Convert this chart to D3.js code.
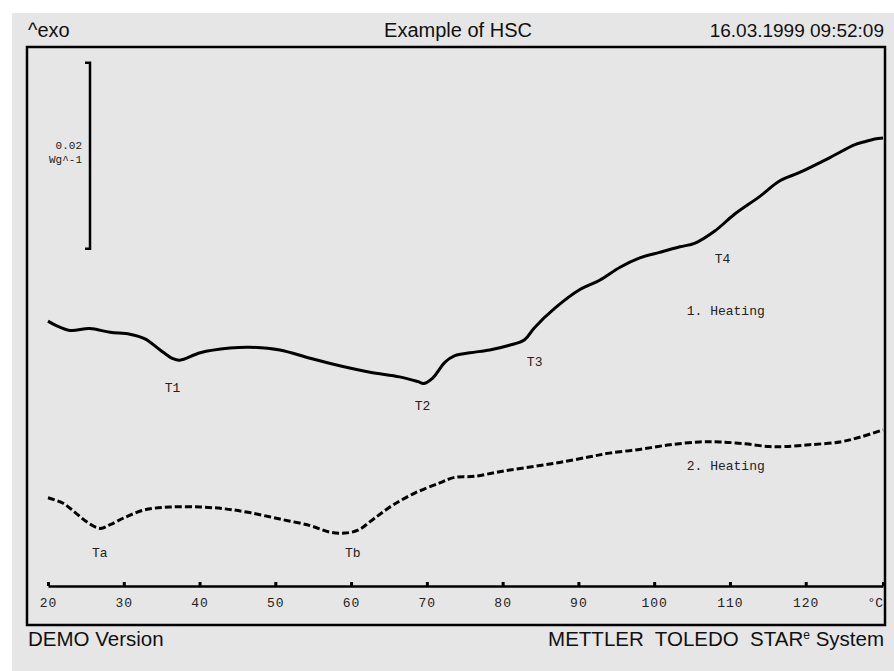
<!DOCTYPE html>
<html>
<head>
<meta charset="utf-8">
<script src="https://cdn.jsdelivr.net/npm/d3@7"></script>
<style>
  html, body { margin: 0; padding: 0; background: #ffffff; }
  svg { display: block; }
</style>
</head>
<body>
<svg id="chart" width="894" height="671"></svg>
<script>
// Temperature (°C) of each sampled point on the two heating runs
const heating1Temp = [20.0, 20.9, 22.9, 25.5, 28.2, 30.8, 32.8, 34.8, 36.4, 37.4, 40.1, 44.0, 46.6, 50.6, 54.6, 58.5, 62.5, 66.4, 68.8, 69.6, 70.8, 72.4, 73.7, 75.7, 78.3, 80.9, 82.9, 84.2, 86.9, 90.2, 92.8, 95.5, 98.1, 100.7, 103.4, 105.4, 108.0, 110.6, 113.9, 116.6, 119.2, 123.2, 126.5, 127.8, 129.1, 130.2];
// Heat flow (W/g, relative) of the first heating run
const heating1Flow = [0.0285, 0.0281, 0.0275, 0.0277, 0.0273, 0.0271, 0.0266, 0.0254, 0.0245, 0.0243, 0.0251, 0.0256, 0.0257, 0.0254, 0.0245, 0.0237, 0.0230, 0.0225, 0.0220, 0.0218, 0.0224, 0.0241, 0.0248, 0.0251, 0.0254, 0.0259, 0.0265, 0.0278, 0.0299, 0.0319, 0.0329, 0.0343, 0.0353, 0.0359, 0.0365, 0.0369, 0.0382, 0.0400, 0.0419, 0.0436, 0.0445, 0.0461, 0.0475, 0.0478, 0.0481, 0.0482];

const heating2Temp = [20.0, 22.0, 23.6, 25.3, 26.9, 28.2, 30.2, 32.8, 36.1, 40.1, 43.4, 46.6, 50.6, 54.6, 57.2, 59.2, 60.9, 63.1, 65.5, 68.4, 71.7, 73.7, 76.3, 79.6, 83.6, 87.5, 91.5, 94.1, 98.1, 102.1, 106.0, 108.7, 112.0, 115.2, 117.2, 120.5, 124.5, 127.1, 130.2];
// Heat flow (W/g, relative) of the second heating run
const heating2Flow = [0.0095, 0.0089, 0.0079, 0.0068, 0.0062, 0.0066, 0.0074, 0.0082, 0.0085, 0.0085, 0.0083, 0.0079, 0.0072, 0.0065, 0.0058, 0.0057, 0.0060, 0.0073, 0.0087, 0.0100, 0.0111, 0.0117, 0.0118, 0.0123, 0.0128, 0.0133, 0.0139, 0.0143, 0.0147, 0.0152, 0.0155, 0.0155, 0.0153, 0.0150, 0.0150, 0.0152, 0.0155, 0.0160, 0.0168];

// Temperature axis ticks
const tempTicks = [20, 30, 40, 50, 60, 70, 80, 90, 100, 110, 120];
const tempUnit = "°C";

// Annotations: text, temperature and heat flow where the text starts
const noteText = ["T1", "T2", "T3", "T4", "1. Heating", "Ta", "Tb", "2. Heating"];
const noteTemp = [35.4, 68.4, 83.2, 108.0, 104.3, 25.8, 59.2, 104.3];
const noteFlow = [0.0209, 0.0189, 0.0237, 0.0348, 0.0292, 0.0031, 0.0031, 0.0125];

// Heat flow scale bar
const scaleBarSize = 0.02;
const scaleBarTop = 0.0563;
const scaleBarLabel = ["0.02", "Wg^-1"];

const headerLeft = "^exo";
const headerTitle = "Example of HSC";
const headerDate = "16.03.1999 09:52:09";
const footerLeft = "DEMO Version";

const svg = d3.select("#chart");
const sans = "'Liberation Sans', Arial, Helvetica, sans-serif";
const mono = "'Liberation Mono', 'Courier New', monospace";

// page panel
svg.append("rect").attr("x", 12).attr("y", 13).attr("width", 882).attr("height", 658).attr("fill", "#e6e6e6");

const frame = { left: 27, right: 885, top: 47, bottom: 625 };

const x = d3.scaleLinear().domain([20, 130.2]).range([48, 883]);
const y = d3.scaleLinear().domain([0, 0.058]).range([586, 47]);

// header
const hdr = svg.append("g").attr("font-family", sans).attr("font-size", 20).attr("fill", "#111");
hdr.append("text").attr("x", 28).attr("y", 37).text(headerLeft);
hdr.append("text").attr("x", 458).attr("y", 37).attr("text-anchor", "middle").text(headerTitle);
hdr.append("text").attr("x", 884).attr("y", 37).attr("text-anchor", "end").attr("font-size", 19).text(headerDate);

// frame
svg.append("rect")
  .attr("x", frame.left).attr("y", frame.top)
  .attr("width", frame.right - frame.left).attr("height", frame.bottom - frame.top)
  .attr("fill", "none").attr("stroke", "#000").attr("stroke-width", 2.5);

// temperature axis
const axis = d3.axisBottom(x)
  .tickValues(tempTicks.concat([130.2]))
  .tickFormat(d => tempTicks.includes(d) ? d : "")
  .tickSizeInner(-4)
  .tickSizeOuter(0)
  .tickPadding(12);

const ax = svg.append("g").attr("transform", `translate(0,${y(0)})`).call(axis);
ax.select(".domain").attr("stroke", "#000").attr("stroke-width", 2.5);
ax.selectAll(".tick line").attr("stroke", "#000").attr("stroke-width", 3);
ax.selectAll(".tick text")
  .attr("font-family", mono).attr("font-size", 13).attr("fill", "#222")
  .attr("letter-spacing", 1);
ax.append("text")
  .attr("x", x(130.2)).attr("y", 21)
  .attr("text-anchor", "end")
  .attr("font-family", mono).attr("font-size", 13).attr("fill", "#222")
  .text(tempUnit);

// scale bar
const sbX = 90;
const sbTop = y(scaleBarTop), sbBot = y(scaleBarTop - scaleBarSize);
svg.append("path")
  .attr("d", `M${sbX - 5},${sbTop} H${sbX} V${sbBot} H${sbX - 5}`)
  .attr("fill", "none").attr("stroke", "#000").attr("stroke-width", 2.5);
svg.selectAll(".sblabel").data(scaleBarLabel).enter().append("text")
  .attr("class", "sblabel")
  .attr("x", 82).attr("y", (d, i) => (sbTop + sbBot) / 2 - 7 + i * 14)
  .attr("text-anchor", "end")
  .attr("font-family", mono).attr("font-size", 11).attr("fill", "#222")
  .text(d => d);

// curves
const line = d3.line().x(d => x(d[0])).y(d => y(d[1])).curve(d3.curveCatmullRom.alpha(0.5));

svg.append("path")
  .datum(d3.zip(heating1Temp, heating1Flow))
  .attr("d", line)
  .attr("fill", "none").attr("stroke", "#000").attr("stroke-width", 3)
  .attr("stroke-linejoin", "round");

svg.append("path")
  .datum(d3.zip(heating2Temp, heating2Flow))
  .attr("d", line)
  .attr("fill", "none").attr("stroke", "#000").attr("stroke-width", 3)
  .attr("stroke-dasharray", "7,3");

// annotations
svg.selectAll(".note").data(d3.range(noteText.length)).enter().append("text")
  .attr("class", "note")
  .attr("x", i => x(noteTemp[i])).attr("y", i => y(noteFlow[i]))
  .attr("font-family", mono).attr("font-size", 13).attr("fill", "#222")
  .text(i => noteText[i]);

// footer
const ftr = svg.append("g").attr("font-family", sans).attr("font-size", 20.5).attr("fill", "#111");
ftr.append("text").attr("x", 28).attr("y", 646).text(footerLeft);
const brand = ftr.append("text").attr("x", 884).attr("y", 646).attr("text-anchor", "end")
  .attr("xml:space", "preserve");
brand.append("tspan").text("METTLER  TOLEDO  STAR");
brand.append("tspan").attr("font-size", 12).attr("dy", -7).text("e");
brand.append("tspan").attr("dy", 7).text(" System");
</script>
</body>
</html>
